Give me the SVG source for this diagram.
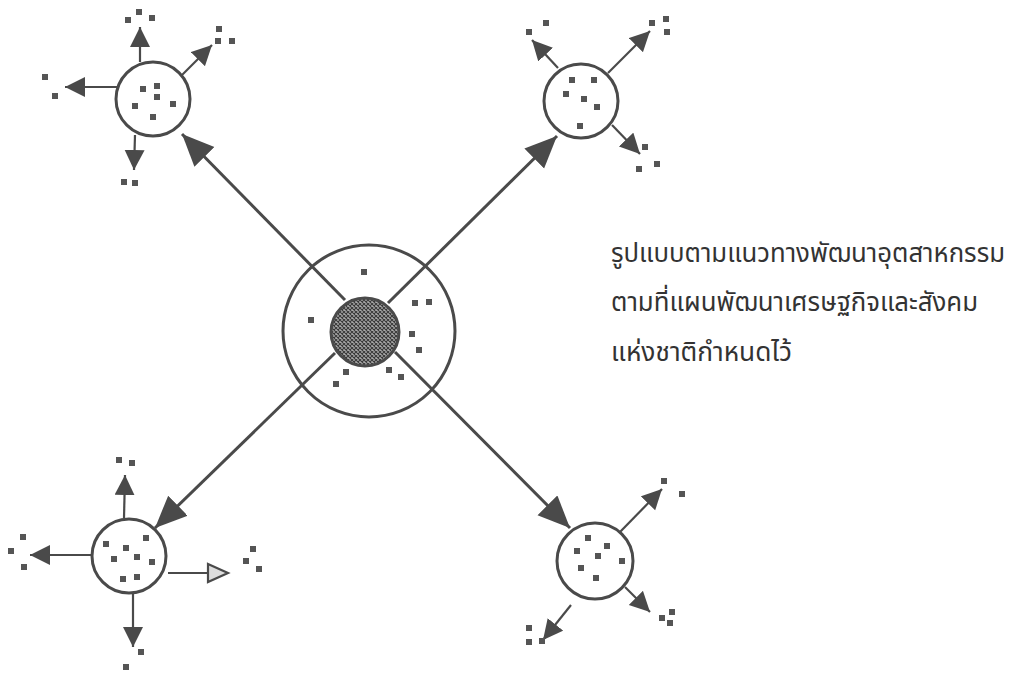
<svg xmlns="http://www.w3.org/2000/svg" width="1019" height="676" viewBox="0 0 1019 676">
<style>
.ring{fill:none;stroke:#4a4a4a;stroke-width:3}
.sat{fill:#fff;stroke:#4a4a4a;stroke-width:3}
.main{stroke:#4a4a4a;stroke-width:3;fill:none}
.sub{stroke:#4a4a4a;stroke-width:2.2;fill:none}
.d{fill:#555}
.lbl{font-family:"Noto Sans Thai","Noto Sans","DejaVu Sans",sans-serif;font-size:26px;fill:#333}
</style>
<defs>
<marker id="big" markerUnits="userSpaceOnUse" markerWidth="34" markerHeight="30" refX="32" refY="14" orient="auto">
<path d="M0,0 L32,14 L0,28 z" fill="#4a4a4a"/>
</marker>
<marker id="sm" markerUnits="userSpaceOnUse" markerWidth="22" markerHeight="22" refX="20" refY="10" orient="auto">
<path d="M0,0 L20,10 L0,20 z" fill="#4a4a4a"/>
</marker>
<marker id="hol" markerUnits="userSpaceOnUse" markerWidth="26" markerHeight="24" refX="22" refY="11" orient="auto">
<path d="M2,2 L22,11 L2,20 z" fill="#ddd" stroke="#4a4a4a" stroke-width="2.2"/>
</marker>
<pattern id="hatch" patternUnits="userSpaceOnUse" width="4" height="4">
<rect width="4" height="4" fill="#aaa"/>
<path d="M0,0 L4,4 M4,0 L0,4" stroke="#3a3a3a" stroke-width="1.1"/>
</pattern>
<rect id="dot" x="-3" y="-3" width="6" height="6"/>
</defs>
<rect width="1019" height="676" fill="#fff"/>

<g id="connectors">
<line class="main" x1="345" y1="300" x2="182" y2="134" marker-end="url(#big)"/>
<line class="main" x1="388" y1="303" x2="557" y2="136" marker-end="url(#big)"/>
<line class="main" x1="335" y1="353" x2="155" y2="528" marker-end="url(#big)"/>
<line class="main" x1="395" y1="352" x2="570" y2="528" marker-end="url(#big)"/>

<line class="sub" x1="140" y1="62" x2="140" y2="27" marker-end="url(#sm)"/>
<line class="sub" x1="117" y1="87" x2="65" y2="87" marker-end="url(#sm)"/>
<line class="sub" x1="182" y1="75" x2="212" y2="45" marker-end="url(#sm)"/>
<line class="sub" x1="135" y1="135" x2="134" y2="170" marker-end="url(#sm)"/>

<line class="sub" x1="558" y1="68" x2="532" y2="40" marker-end="url(#sm)"/>
<line class="sub" x1="608" y1="73" x2="650" y2="31" marker-end="url(#sm)"/>
<line class="sub" x1="612" y1="125" x2="640" y2="154" marker-end="url(#sm)"/>

<line class="sub" x1="124" y1="518" x2="125" y2="475" marker-end="url(#sm)"/>
<line class="sub" x1="91" y1="555" x2="30" y2="555" marker-end="url(#sm)"/>
<line class="sub" x1="168" y1="573" x2="228" y2="573" marker-end="url(#hol)"/>
<line class="sub" x1="133" y1="594" x2="133" y2="647" marker-end="url(#sm)"/>

<line class="sub" x1="620" y1="532" x2="662" y2="489" marker-end="url(#sm)"/>
<line class="sub" x1="625" y1="587" x2="650" y2="612" marker-end="url(#sm)"/>
<line class="sub" x1="571" y1="605" x2="543" y2="640" marker-end="url(#sm)"/>
</g>

<g id="center">
<circle class="ring" cx="369" cy="331" r="86"/>
<circle cx="365" cy="332" r="34" fill="url(#hatch)" stroke="#4a4a4a" stroke-width="3"/>
<g class="d">
<use href="#dot" x="364" y="272"/><use href="#dot" x="311" y="320"/>
<use href="#dot" x="415" y="303"/><use href="#dot" x="429" y="302"/>
<use href="#dot" x="412" y="334"/><use href="#dot" x="419" y="350"/>
<use href="#dot" x="346" y="372"/><use href="#dot" x="336" y="384"/>
<use href="#dot" x="389" y="370"/><use href="#dot" x="401" y="377"/>
</g>
</g>

<g id="sat-top-left">
<circle class="sat" cx="153" cy="99" r="37"/>
<g class="d">
<use href="#dot" x="143" y="89"/><use href="#dot" x="157" y="86"/><use href="#dot" x="157" y="97"/>
<use href="#dot" x="135" y="106"/><use href="#dot" x="173" y="104"/><use href="#dot" x="153" y="117"/>
<use href="#dot" x="128" y="20"/><use href="#dot" x="139" y="12"/><use href="#dot" x="152" y="18"/>
<use href="#dot" x="219" y="29"/><use href="#dot" x="218" y="41"/><use href="#dot" x="232" y="41"/>
<use href="#dot" x="45" y="77"/><use href="#dot" x="55" y="96"/>
<use href="#dot" x="124" y="182"/><use href="#dot" x="135" y="183"/>
</g>
</g>

<g id="sat-top-right">
<circle class="sat" cx="581" cy="101" r="37"/>
<g class="d">
<use href="#dot" x="572" y="80"/><use href="#dot" x="594" y="80"/><use href="#dot" x="566" y="94"/>
<use href="#dot" x="584" y="99"/><use href="#dot" x="597" y="107"/><use href="#dot" x="580" y="126"/>
<use href="#dot" x="529" y="32"/><use href="#dot" x="546" y="23"/>
<use href="#dot" x="652" y="23"/><use href="#dot" x="666" y="19"/><use href="#dot" x="667" y="32"/>
<use href="#dot" x="645" y="147"/><use href="#dot" x="639" y="169"/><use href="#dot" x="657" y="164"/>
</g>
</g>

<g id="sat-bottom-left">
<circle class="sat" cx="129" cy="556" r="37"/>
<g class="d">
<use href="#dot" x="106" y="544"/><use href="#dot" x="146" y="538"/><use href="#dot" x="126" y="548"/>
<use href="#dot" x="114" y="559"/><use href="#dot" x="137" y="557"/><use href="#dot" x="152" y="562"/>
<use href="#dot" x="123" y="579"/><use href="#dot" x="137" y="577"/>
<use href="#dot" x="119" y="460"/><use href="#dot" x="132" y="463"/>
<use href="#dot" x="23" y="537"/><use href="#dot" x="11" y="551"/><use href="#dot" x="24" y="567"/>
<use href="#dot" x="253" y="549"/><use href="#dot" x="246" y="561"/><use href="#dot" x="259" y="569"/>
<use href="#dot" x="141" y="652"/><use href="#dot" x="126" y="667"/>
</g>
</g>

<g id="sat-bottom-right">
<circle class="sat" cx="595" cy="561" r="38"/>
<g class="d">
<use href="#dot" x="588" y="538"/><use href="#dot" x="607" y="546"/><use href="#dot" x="577" y="551"/>
<use href="#dot" x="598" y="556"/><use href="#dot" x="622" y="561"/><use href="#dot" x="581" y="568"/>
<use href="#dot" x="596" y="578"/>
<use href="#dot" x="664" y="481"/><use href="#dot" x="682" y="494"/>
<use href="#dot" x="662" y="618"/><use href="#dot" x="672" y="612"/><use href="#dot" x="670" y="623"/>
<use href="#dot" x="529" y="628"/><use href="#dot" x="529" y="642"/><use href="#dot" x="542" y="641"/>
</g>
</g>

<g id="caption">
<text class="lbl" x="611" y="262" textLength="394" lengthAdjust="spacingAndGlyphs">รูปแบบตามแนวทางพัฒนาอุตสาหกรรม</text>
<text class="lbl" x="611" y="311" textLength="367" lengthAdjust="spacingAndGlyphs">ตามที่แผนพัฒนาเศรษฐกิจและสังคม</text>
<text class="lbl" x="611" y="361" textLength="181" lengthAdjust="spacingAndGlyphs">แห่งชาติกำหนดไว้</text>
</g>
</svg>
